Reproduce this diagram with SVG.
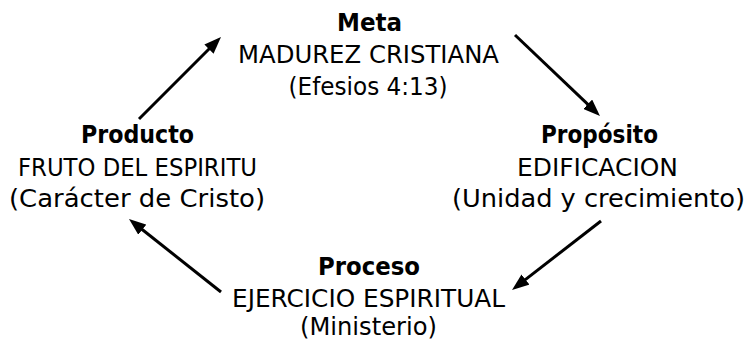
<svg xmlns="http://www.w3.org/2000/svg" width="751" height="341" viewBox="0 0 751 341">
  <defs>
    <marker id="arrow" markerUnits="userSpaceOnUse" markerWidth="17" markerHeight="13" refX="5" refY="6.5" orient="auto">
      <path d="M0,0 L17,6.5 L0,13 z" fill="#000"/>
    </marker>
    <style>
      text { font-family: "DejaVu Sans", "Liberation Sans", sans-serif; font-size: 24px; fill: #000; text-anchor: middle; }
      .t { font-weight: bold; }
      .c { stroke: #000; stroke-width: 3; fill: none; marker-end: url(#arrow); }
    </style>
  </defs>
  <rect width="751" height="341" fill="#fff"/>
  <g id="meta">
    <text class="t" x="369.5" y="31" textLength="65" lengthAdjust="spacingAndGlyphs">Meta</text>
    <text x="368.5" y="63" textLength="261" lengthAdjust="spacingAndGlyphs">MADUREZ CRISTIANA</text>
    <text x="368" y="95" textLength="159" lengthAdjust="spacingAndGlyphs">(Efesios 4:13)</text>
  </g>
  <g id="proposito">
    <text class="t" x="599.5" y="143" textLength="117" lengthAdjust="spacingAndGlyphs">Propósito</text>
    <text x="597.5" y="176" textLength="161" lengthAdjust="spacingAndGlyphs">EDIFICACION</text>
    <text x="598.5" y="207" textLength="293" lengthAdjust="spacingAndGlyphs">(Unidad y crecimiento)</text>
  </g>
  <g id="proceso">
    <text class="t" x="369" y="275" textLength="102" lengthAdjust="spacingAndGlyphs">Proceso</text>
    <text x="368.5" y="307" textLength="273" lengthAdjust="spacingAndGlyphs">EJERCICIO ESPIRITUAL</text>
    <text x="368.5" y="335" textLength="137" lengthAdjust="spacingAndGlyphs">(Ministerio)</text>
  </g>
  <g id="producto">
    <text class="t" x="137.5" y="143" textLength="113" lengthAdjust="spacingAndGlyphs">Producto</text>
    <text x="137.5" y="176" textLength="239" lengthAdjust="spacingAndGlyphs">FRUTO DEL ESPIRITU</text>
    <text x="137" y="207" textLength="256" lengthAdjust="spacingAndGlyphs">(Carácter de Cristo)</text>
  </g>
  <g id="connectors">
    <path class="c" d="M139,119 L212.5,45.5"/>
    <path class="c" d="M515,35 L591.3,107.7"/>
    <path class="c" d="M601,221 L521.5,282.6"/>
    <path class="c" d="M221,292 L138.4,226.5"/>
  </g>
</svg>
